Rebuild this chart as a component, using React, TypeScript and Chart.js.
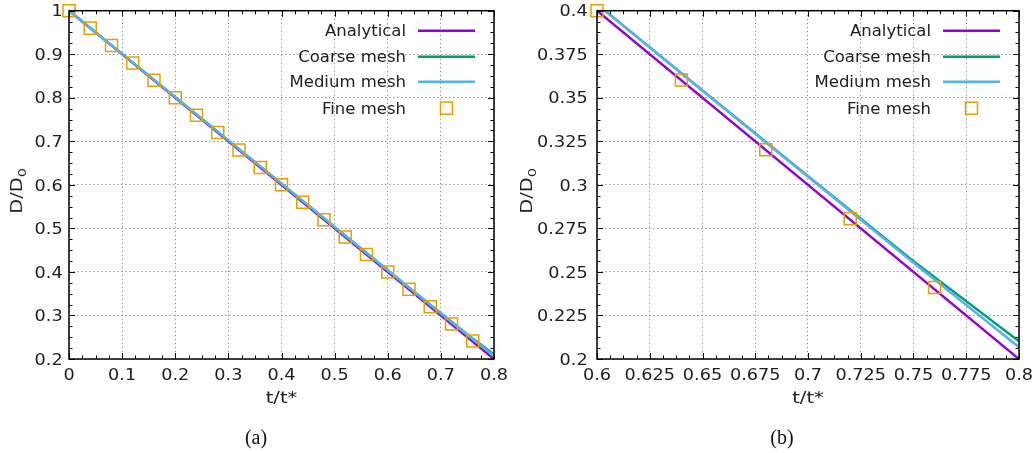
import React, { useEffect, useRef } from 'react';
import { Chart, registerables } from 'chart.js';

Chart.register(...registerables);

// ---------------- data ----------------
const legendLabels = ['Analytical', 'Coarse mesh', 'Medium mesh', 'Fine mesh'];
const seriesColors = ['#9400D3', '#009E73', '#56B4E9', '#E69F00'];

const analyticalT = [0, 0.8];
const analyticalD = [1.0, 0.2];

const coarseT = [0, 0.1, 0.2, 0.3, 0.4, 0.5, 0.6, 0.65, 0.7, 0.75, 0.8];
const coarseD = [1.0, 0.9008, 0.8015, 0.7022, 0.6028, 0.5033, 0.4038, 0.3542, 0.305, 0.2562, 0.2102];

const mediumT = [0, 0.1, 0.2, 0.3, 0.4, 0.5, 0.6, 0.65, 0.7, 0.75, 0.8];
const mediumD = [1.0, 0.9008, 0.8015, 0.7022, 0.6028, 0.5033, 0.4037, 0.354, 0.3046, 0.2553, 0.2068];

const fineT = [0, 0.04, 0.08, 0.12, 0.16, 0.2, 0.24, 0.28, 0.32, 0.36, 0.4, 0.44, 0.48, 0.52, 0.56, 0.6, 0.64, 0.68, 0.72, 0.76];
const fineD = [1.0, 0.96, 0.92, 0.88, 0.84, 0.8, 0.76, 0.72, 0.68, 0.64, 0.6, 0.56, 0.52, 0.48, 0.44, 0.4, 0.3602, 0.3201, 0.2806, 0.2411];

const panelAXTicks = [0, 0.1, 0.2, 0.3, 0.4, 0.5, 0.6, 0.7, 0.8];
const panelAYTicks = [0.2, 0.3, 0.4, 0.5, 0.6, 0.7, 0.8, 0.9, 1];
const panelBXTicks = [0.6, 0.625, 0.65, 0.675, 0.7, 0.725, 0.75, 0.775, 0.8];
const panelBYTicks = [0.2, 0.225, 0.25, 0.275, 0.3, 0.325, 0.35, 0.375, 0.4];

const xTitle = 't/t*';
const yTitleMain = 'D/D';
const yTitleSub = '0';
const captions = ['(a)', '(b)'];

// ---------------- helpers ----------------
const FONT = "'DejaVu Sans', 'Noto Sans', sans-serif";
const TEXT = '#1e1e1e';

function pts(t: number[], d: number[]) {
  return t.map((v, i) => ({ x: v, y: d[i] }));
}

function sText(ctx: any, s: string, x: number, y: number, align: string, size: number, sx: number) {
  ctx.save();
  ctx.translate(x, y);
  ctx.scale(sx, 1);
  ctx.font = `${size}px ${FONT}`;
  ctx.textAlign = align;
  ctx.textBaseline = 'alphabetic';
  ctx.fillStyle = TEXT;
  ctx.fillText(s, 0, 0);
  ctx.restore();
}

const TICK_SIZE = 15.5;
const TICK_SX = 1.14;
const LEG_SIZE = 15;
const LEG_SX = 1.1;
const TITLE_SIZE = 15;
const TITLE_SX = 1.3;

const framePlugin = {
  id: 'gnuFrame',
  afterDraw(chart: any, _args: any, opts: any) {
    const ctx = chart.ctx;
    const a = chart.chartArea;
    const xs = chart.scales.x;
    const ys = chart.scales.y;
    ctx.save();
    // ticks (major + minor) inward on all four sides
    ctx.strokeStyle = '#000';
    ctx.lineWidth = 1;
    const majorLen = 6;
    const minorLen = 3.5;
    const drawX = (v: number, len: number) => {
      const p = Math.round(xs.getPixelForValue(v)) + 0.5;
      ctx.beginPath();
      ctx.moveTo(p, a.bottom);
      ctx.lineTo(p, a.bottom - len);
      ctx.moveTo(p, a.top);
      ctx.lineTo(p, a.top + len);
      ctx.stroke();
    };
    const drawY = (v: number, len: number) => {
      const p = Math.round(ys.getPixelForValue(v)) + 0.5;
      ctx.beginPath();
      ctx.moveTo(a.left, p);
      ctx.lineTo(a.left + len, p);
      ctx.moveTo(a.right, p);
      ctx.lineTo(a.right - len, p);
      ctx.stroke();
    };
    const xt: number[] = opts.xTicks;
    const yt: number[] = opts.yTicks;
    xt.forEach((v, i) => {
      drawX(v, majorLen);
      if (i < xt.length - 1) for (let k = 1; k < 4; k++) drawX(v + ((xt[i + 1] - v) * k) / 4, minorLen);
    });
    yt.forEach((v, i) => {
      drawY(v, majorLen);
      if (i < yt.length - 1) for (let k = 1; k < 4; k++) drawY(v + ((yt[i + 1] - v) * k) / 4, minorLen);
    });
    // frame
    ctx.lineWidth = 1.5;
    ctx.strokeRect(a.left, a.top, a.right - a.left, a.bottom - a.top);

    // tick labels
    const dy = 0.365 * TICK_SIZE;
    xt.forEach((v) => {
      sText(ctx, String(v), xs.getPixelForValue(v), a.bottom + 15.3 + dy, 'center', TICK_SIZE, TICK_SX);
    });
    yt.forEach((v) => {
      sText(ctx, String(v), a.left - opts.yLabelPad, ys.getPixelForValue(v) + dy, 'right', TICK_SIZE, TICK_SX);
    });

    // legend
    const rows = [20, 46, 71, 97.5];
    legendLabels.forEach((lab, i) => {
      const y = a.top + rows[i];
      sText(ctx, lab, a.right - 88, y + 0.365 * LEG_SIZE, 'right', LEG_SIZE, LEG_SX);
      if (i < 3) {
        ctx.strokeStyle = seriesColors[i];
        ctx.lineWidth = 2.5;
        ctx.beginPath();
        ctx.moveTo(a.right - 76, y);
        ctx.lineTo(a.right - 19, y);
        ctx.stroke();
      } else {
        ctx.strokeStyle = seriesColors[i];
        ctx.lineWidth = 1.5;
        ctx.strokeRect(a.right - 47.5 - 6, y - 6, 12, 12);
      }
    });

    // axis titles
    sText(ctx, xTitle, (a.left + a.right) / 2, a.bottom + 43.5, 'center', TITLE_SIZE, TITLE_SX);

    const cy = (a.top + a.bottom) / 2 + opts.yTitleDY;
    ctx.save();
    ctx.translate(opts.yTitleX, cy);
    ctx.rotate(-Math.PI / 2);
    ctx.scale(TITLE_SX, 1);
    ctx.font = `${TITLE_SIZE}px ${FONT}`;
    const wMain = ctx.measureText(yTitleMain).width;
    ctx.font = `${TITLE_SIZE * 0.75}px ${FONT}`;
    const wSub = ctx.measureText(yTitleSub).width;
    const total = wMain + wSub;
    ctx.textAlign = 'left';
    ctx.textBaseline = 'alphabetic';
    ctx.fillStyle = TEXT;
    ctx.font = `${TITLE_SIZE}px ${FONT}`;
    ctx.fillText(yTitleMain, -total / 2, 0);
    ctx.font = `${TITLE_SIZE * 0.75}px ${FONT}`;
    ctx.fillText(yTitleSub, -total / 2 + wMain, 4);
    ctx.restore();
    ctx.restore();
  },
};

type PanelProps = {
  left: number;
  width: number;
  yAxisWidth: number;
  padRight: number;
  yLabelPad: number;
  yTitleX: number;
  xTicks: number[];
  yTicks: number[];
};

function Panel(p: PanelProps) {
  const ref = useRef<HTMLCanvasElement | null>(null);
  useEffect(() => {
    if (!ref.current) return;
    const line = (label: string, data: any, color: string, order: number) => ({
      label,
      data,
      borderColor: color,
      backgroundColor: color,
      borderWidth: 2.5,
      pointRadius: 0,
      tension: 0,
      order,
    });
    const chart = new Chart(ref.current, {
      type: 'line',
      data: {
        datasets: [
          line(legendLabels[0], pts(analyticalT, analyticalD), seriesColors[0], 3),
          line(legendLabels[1], pts(coarseT, coarseD), seriesColors[1], 2),
          line(legendLabels[2], pts(mediumT, mediumD), seriesColors[2], 1),
          {
            label: legendLabels[3],
            data: pts(fineT, fineD),
            showLine: false,
            pointStyle: 'rect',
            pointRadius: 8.5,
            pointBorderWidth: 1.5,
            borderColor: seriesColors[3],
            pointBorderColor: seriesColors[3],
            backgroundColor: 'rgba(0,0,0,0)',
            pointBackgroundColor: 'rgba(0,0,0,0)',
            clip: false,
            order: 0,
          } as any,
        ],
      },
      options: {
        animation: false,
        responsive: false,
        events: [],
        layout: { padding: { top: 10.7, right: p.padRight, bottom: 0, left: 0 } },
        plugins: {
          legend: { display: false },
          tooltip: { enabled: false },
          gnuFrame: { xTicks: p.xTicks, yTicks: p.yTicks, yTitleX: p.yTitleX, yLabelPad: p.yLabelPad, yTitleDY: 6 },
        } as any,
        scales: {
          x: {
            type: 'linear',
            min: p.xTicks[0],
            max: p.xTicks[p.xTicks.length - 1],
            afterBuildTicks: (s: any) => {
              s.ticks = p.xTicks.map((v) => ({ value: v }));
            },
            afterFit: (s: any) => {
              s.height = 94;
            },
            ticks: { display: false, autoSkip: false },
            grid: { color: '#9a9a9a', lineWidth: 1, drawTicks: false },
            border: { display: false, dash: [1.5, 2.5] },
          },
          y: {
            type: 'linear',
            min: p.yTicks[0],
            max: p.yTicks[p.yTicks.length - 1],
            afterBuildTicks: (s: any) => {
              s.ticks = p.yTicks.map((v) => ({ value: v }));
            },
            afterFit: (s: any) => {
              s.width = p.yAxisWidth;
            },
            ticks: { display: false, autoSkip: false },
            grid: { color: '#9a9a9a', lineWidth: 1, drawTicks: false },
            border: { display: false, dash: [1.5, 2.5] },
          },
        },
      },
      plugins: [framePlugin],
    } as any);
    return () => chart.destroy();
  }, []);
  return (
    <canvas
      ref={ref}
      width={p.width}
      height={453}
      style={{ position: 'absolute', left: p.left, top: 0, width: p.width, height: 453 }}
    />
  );
}

export default function App() {
  const capStyle = (cx: number): React.CSSProperties => ({
    position: 'absolute',
    left: cx - 40,
    width: 80,
    top: 424,
    textAlign: 'center',
    fontFamily: "'Liberation Serif', 'DejaVu Serif', serif",
    fontSize: 20,
    lineHeight: '26px',
    color: '#111',
  });
  return (
    <div style={{ position: 'fixed', left: 0, top: 0, width: 1035, height: 453, background: '#fff', overflow: 'hidden' }}>
      <Panel left={0} width={520} yAxisWidth={69} padRight={26} yLabelPad={6.3} yTitleX={21.5} xTicks={panelAXTicks} yTicks={panelAYTicks} />
      <Panel left={520} width={515} yAxisWidth={77} padRight={16} yLabelPad={9.3} yTitleX={11.5} xTicks={panelBXTicks} yTicks={panelBYTicks} />
      <div style={capStyle(256)}>{captions[0]}</div>
      <div style={capStyle(782)}>{captions[1]}</div>
    </div>
  );
}
